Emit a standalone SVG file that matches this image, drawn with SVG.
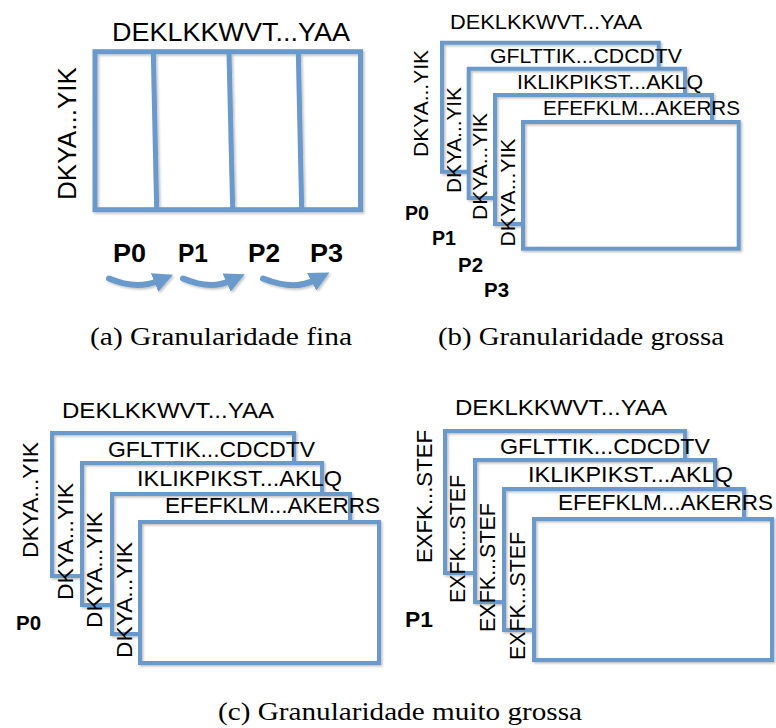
<svg xmlns="http://www.w3.org/2000/svg" width="776" height="728" viewBox="0 0 776 728">
  <defs>
    <filter id="soft" filterUnits="userSpaceOnUse" x="0" y="0" width="776" height="728">
      <feDropShadow dx="1.5" dy="1.5" stdDeviation="1" flood-color="#000" flood-opacity="0.25"/>
    </filter>
    <marker id="head" markerUnits="userSpaceOnUse" markerWidth="20" markerHeight="20" refX="3" refY="8" orient="auto" viewBox="0 0 16 16">
      <path d="M0,0 L16,8 L0,16 z" fill="#6a9acb"/>
    </marker>
  </defs>
  <style>
    .frame { fill: none; stroke: #6a9acb; stroke-linejoin: miter; }
    .fa { stroke-width: 5; }
    .fb { stroke-width: 4; }
    .seq { font-family: "Liberation Sans", Arial, sans-serif; fill: #000; }
    .proc { font-family: "Liberation Sans", Arial, sans-serif; font-weight: bold; fill: #000; }
    .cap { font-family: "Liberation Serif", "Times New Roman", serif; font-size: 26px; fill: #000; }
    .flow { fill: none; stroke: #6a9acb; stroke-width: 6; stroke-linecap: round; }
  </style>
  <rect width="776" height="728" fill="#fff"/>

  <!-- (a) fine grain: one matrix split into columns -->
  <g id="panel-a">
    <g id="matrix-a" filter="url(#soft)">
      <rect class="frame fa" x="95" y="51.7" width="265.5" height="158"/>
      <line class="frame fa" x1="153.3" y1="52" x2="156.7" y2="209.5"/>
      <line class="frame fa" x1="229" y1="52" x2="232.7" y2="209.5"/>
      <line class="frame fa" x1="298.3" y1="52" x2="301.7" y2="209.5"/>
    </g>
    <text class="seq" font-size="26" x="112" y="41" textLength="238" lengthAdjust="spacingAndGlyphs">DEKLKKWVT...YAA</text>
    <text class="seq" font-size="26" text-anchor="middle" transform="translate(76,133.5) rotate(-90)" textLength="133" lengthAdjust="spacingAndGlyphs">DKYA...YIK</text>
    <g id="procs-a">
      <text class="proc" font-size="25" x="113" y="262" textLength="33" lengthAdjust="spacingAndGlyphs">P0</text>
      <text class="proc" font-size="25" x="178" y="262" textLength="30" lengthAdjust="spacingAndGlyphs">P1</text>
      <text class="proc" font-size="25" x="248" y="262" textLength="32" lengthAdjust="spacingAndGlyphs">P2</text>
      <text class="proc" font-size="25" x="310" y="262" textLength="33" lengthAdjust="spacingAndGlyphs">P3</text>
    </g>
    <g id="connectors-a" filter="url(#soft)">
      <path class="flow" d="M109,278.5 Q136,290 158,281" marker-end="url(#head)"/>
      <path class="flow" d="M183,278.5 Q210,290 230,281" marker-end="url(#head)"/>
      <path class="flow" d="M263,278.5 Q294,291 315,280" marker-end="url(#head)"/>
    </g>
    <text class="cap" x="90" y="345" textLength="262" lengthAdjust="spacingAndGlyphs">(a) Granularidade fina</text>
  </g>

  <!-- (b) coarse grain: stacked sequence pairs -->
  <g id="panel-b">
    <g id="stack-b" filter="url(#soft)">
      <path class="frame fb" d="M468.7,171.7 H442 V42.7 H658.7 V68.7"/>
      <path class="frame fb" d="M495,198 H468.7 V68.7 H685 V95"/>
      <path class="frame fb" d="M523,224 H495 V95 H712 V122"/>
      <rect class="frame fb" x="523" y="122" width="215.7" height="126.7"/>
    </g>
    <text class="seq" font-size="21" x="450" y="29" textLength="192" lengthAdjust="spacingAndGlyphs">DEKLKKWVT...YAA</text>
    <text class="seq" font-size="21" x="490" y="63" textLength="192" lengthAdjust="spacingAndGlyphs">GFLTTIK...CDCDTV</text>
    <text class="seq" font-size="21" x="517" y="89" textLength="186" lengthAdjust="spacingAndGlyphs">IKLIKPIKST...AKLQ</text>
    <text class="seq" font-size="21" x="543" y="115" textLength="197" lengthAdjust="spacingAndGlyphs">EFEFKLM...AKERRS</text>
    <text class="seq" font-size="21" text-anchor="middle" transform="translate(428,103.5) rotate(-90)" textLength="107" lengthAdjust="spacingAndGlyphs">DKYA...YIK</text>
    <text class="seq" font-size="21" text-anchor="middle" transform="translate(461,140) rotate(-90)" textLength="106" lengthAdjust="spacingAndGlyphs">DKYA...YIK</text>
    <text class="seq" font-size="21" text-anchor="middle" transform="translate(487,166.5) rotate(-90)" textLength="107" lengthAdjust="spacingAndGlyphs">DKYA...YIK</text>
    <text class="seq" font-size="21" text-anchor="middle" transform="translate(514.5,192.5) rotate(-90)" textLength="108" lengthAdjust="spacingAndGlyphs">DKYA...YIK</text>
    <g id="procs-b">
      <text class="proc" font-size="20" x="405" y="220" textLength="24" lengthAdjust="spacingAndGlyphs">P0</text>
      <text class="proc" font-size="20" x="432" y="245" textLength="24" lengthAdjust="spacingAndGlyphs">P1</text>
      <text class="proc" font-size="20" x="458" y="272" textLength="25" lengthAdjust="spacingAndGlyphs">P2</text>
      <text class="proc" font-size="20" x="484" y="297" textLength="25" lengthAdjust="spacingAndGlyphs">P3</text>
    </g>
    <text class="cap" x="438" y="345" textLength="286" lengthAdjust="spacingAndGlyphs">(b) Granularidade grossa</text>
  </g>

  <!-- (c) very coarse grain, processor P0 -->
  <g id="panel-c0">
    <g id="stack-c0" filter="url(#soft)">
      <path class="frame fb" d="M82,576 H52 V433 H294 V463"/>
      <path class="frame fb" d="M112,605 H82 V463 H322 V494"/>
      <path class="frame fb" d="M140,634 H112 V494 H350 V522"/>
      <rect class="frame fb" x="140" y="522" width="239" height="141"/>
    </g>
    <text class="seq" font-size="22" x="62" y="418" textLength="212" lengthAdjust="spacingAndGlyphs">DEKLKKWVT...YAA</text>
    <text class="seq" font-size="22" x="108" y="457" textLength="207" lengthAdjust="spacingAndGlyphs">GFLTTIK...CDCDTV</text>
    <text class="seq" font-size="22" x="137" y="486" textLength="205" lengthAdjust="spacingAndGlyphs">IKLIKPIKST...AKLQ</text>
    <text class="seq" font-size="22" x="165" y="513" textLength="215" lengthAdjust="spacingAndGlyphs">EFEFKLM...AKERRS</text>
    <text class="seq" font-size="22" text-anchor="middle" transform="translate(38,500) rotate(-90)" textLength="116" lengthAdjust="spacingAndGlyphs">DKYA...YIK</text>
    <text class="seq" font-size="22" text-anchor="middle" transform="translate(73,541.5) rotate(-90)" textLength="117" lengthAdjust="spacingAndGlyphs">DKYA...YIK</text>
    <text class="seq" font-size="22" text-anchor="middle" transform="translate(102,570) rotate(-90)" textLength="116" lengthAdjust="spacingAndGlyphs">DKYA...YIK</text>
    <text class="seq" font-size="22" text-anchor="middle" transform="translate(132,600) rotate(-90)" textLength="116" lengthAdjust="spacingAndGlyphs">DKYA...YIK</text>
    <text class="proc" font-size="21" x="16" y="630" textLength="25" lengthAdjust="spacingAndGlyphs">P0</text>
  </g>

  <!-- (c) very coarse grain, processor P1 -->
  <g id="panel-c1">
    <g id="stack-c1" filter="url(#soft)">
      <path class="frame fb" d="M475,573 H445 V431 H685 V460"/>
      <path class="frame fb" d="M504,602 H475 V460 H715 V489"/>
      <path class="frame fb" d="M534,630 H504 V489 H744 V519"/>
      <rect class="frame fb" x="534" y="519" width="238" height="141"/>
    </g>
    <text class="seq" font-size="22" x="455" y="415" textLength="212" lengthAdjust="spacingAndGlyphs">DEKLKKWVT...YAA</text>
    <text class="seq" font-size="22" x="500" y="454" textLength="210" lengthAdjust="spacingAndGlyphs">GFLTTIK...CDCDTV</text>
    <text class="seq" font-size="22" x="528" y="481.5" textLength="205" lengthAdjust="spacingAndGlyphs">IKLIKPIKST...AKLQ</text>
    <text class="seq" font-size="22" x="558" y="510" textLength="215" lengthAdjust="spacingAndGlyphs">EFEFKLM...AKERRS</text>
    <text class="seq" font-size="22" text-anchor="middle" transform="translate(432,496.5) rotate(-90)" textLength="133" lengthAdjust="spacingAndGlyphs">EXFK...STEF</text>
    <text class="seq" font-size="22" text-anchor="middle" transform="translate(465,539) rotate(-90)" textLength="128" lengthAdjust="spacingAndGlyphs">EXFK...STEF</text>
    <text class="seq" font-size="22" text-anchor="middle" transform="translate(495,567.5) rotate(-90)" textLength="129" lengthAdjust="spacingAndGlyphs">EXFK...STEF</text>
    <text class="seq" font-size="22" text-anchor="middle" transform="translate(525,596) rotate(-90)" textLength="128" lengthAdjust="spacingAndGlyphs">EXFK...STEF</text>
    <text class="proc" font-size="22" x="405" y="627" textLength="28" lengthAdjust="spacingAndGlyphs">P1</text>
  </g>

  <text class="cap" x="218" y="720" textLength="364" lengthAdjust="spacingAndGlyphs">(c) Granularidade muito grossa</text>
</svg>
